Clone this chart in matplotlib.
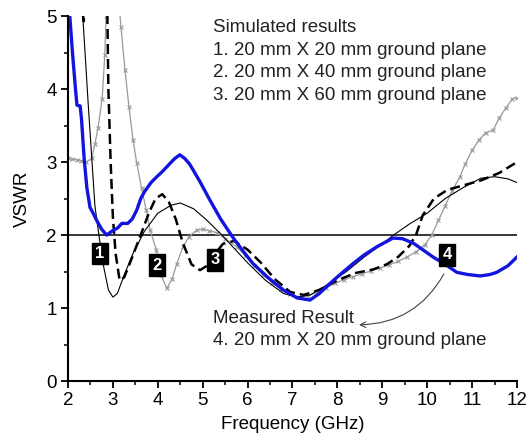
import numpy as np
import matplotlib
matplotlib.use('Agg')
import matplotlib.pyplot as plt
from matplotlib.patches import FancyArrowPatch
from matplotlib.ticker import MultipleLocator

# simulated 1: 20 mm x 20 mm ground plane (thin solid)
sim1_f = [2.30, 2.45, 2.60, 2.70, 2.80, 2.90, 3.00, 3.10, 3.25, 3.45, 3.70, 4.00, 4.30,
          4.50, 4.80, 5.10, 5.43, 5.70, 6.00, 6.40, 6.80, 7.10, 7.40, 7.80, 8.20, 8.60,
          9.00, 9.25, 9.60, 10.00, 10.40, 10.80, 11.20, 11.50, 11.80, 12.00]
sim1_v = [5.30, 3.80, 2.40, 1.95, 1.55, 1.25, 1.15, 1.20, 1.45, 1.75, 2.05, 2.30, 2.41,
          2.44, 2.36, 2.20, 2.00, 1.82, 1.62, 1.38, 1.20, 1.15, 1.18, 1.33, 1.50, 1.70,
          1.88, 2.00, 2.15, 2.30, 2.50, 2.65, 2.78, 2.80, 2.77, 2.72]

# simulated 2: 20 mm x 40 mm ground plane (dashed), nan splits the two pieces
sim2_f = [2.28, 2.35, 2.42, np.nan,
          2.87, 2.90, 2.95, 3.00, 3.06, 3.15, 3.25, 3.40, 3.60, 3.80, 3.95, 4.10, 4.25,
          4.40, 4.56, 4.75, 4.94, 5.10, 5.25, 5.45, 5.70, 6.00, 6.30, 6.60, 6.95, 7.25,
          7.60, 8.00, 8.40, 8.80, 9.10, 9.35, 9.60, 9.75, 9.90, 10.15, 10.45, 10.80,
          11.20, 11.60, 12.00]
sim2_v = [5.30, 4.93, 5.30, np.nan,
          5.30, 4.00, 3.00, 2.25, 1.75, 1.38, 1.42, 1.65, 1.97, 2.30, 2.50, 2.56, 2.45,
          2.22, 1.89, 1.60, 1.52, 1.58, 1.72, 1.88, 1.92, 1.80, 1.62, 1.40, 1.22, 1.18,
          1.25, 1.38, 1.48, 1.53, 1.60, 1.70, 1.85, 2.00, 2.27, 2.50, 2.62, 2.68,
          2.75, 2.85, 3.00]

# simulated 3: 20 mm x 60 mm ground plane (grey with x marks)
sim3_f = [2.00, 2.10, 2.20, 2.30, 2.40, 2.53, 2.60, 2.67, 2.76, 2.82, 2.85, 2.92, 3.05,
          3.18, 3.27, 3.36, 3.45, 3.53, 3.64, 3.74, 3.83, 3.97, 4.07, 4.20, 4.32, 4.42,
          4.56, 4.70, 4.87, 5.00, 5.15, 5.32, 5.50, 5.76, 5.95, 6.15, 6.35, 6.55, 6.75,
          6.95, 7.15, 7.35, 7.55, 7.75, 7.95, 8.15, 8.35, 8.55, 8.75, 8.95, 9.15, 9.35,
          9.55, 9.75, 9.95, 10.10, 10.25, 10.40, 10.55, 10.73, 10.85, 11.00, 11.15,
          11.30, 11.47, 11.60, 11.75, 11.90, 12.00]
sim3_v = [3.05, 3.04, 3.03, 3.02, 3.00, 3.05, 3.25, 3.47, 3.86, 4.47, 5.00, 5.60, 5.80,
          4.85, 4.26, 3.75, 3.30, 2.99, 2.64, 2.35, 2.07, 1.79, 1.45, 1.27, 1.40, 1.60,
          1.84, 1.98, 2.07, 2.08, 2.06, 2.03, 1.95, 1.84, 1.72, 1.58, 1.46, 1.35, 1.26,
          1.19, 1.15, 1.17, 1.22, 1.28, 1.34, 1.39, 1.43, 1.47, 1.51, 1.55, 1.59, 1.64,
          1.70, 1.77, 1.87, 2.00, 2.20, 2.40, 2.60, 2.80, 2.98, 3.16, 3.30,
          3.40, 3.44, 3.60, 3.74, 3.87, 3.88]

# measured 4: 20 mm x 20 mm ground plane (blue)
meas_f = [2.00, 2.04, 2.10, 2.16, 2.20, 2.27, 2.30, 2.36, 2.42, 2.49, 2.56, 2.64, 2.75,
          2.86, 2.97, 3.11, 3.20, 3.33, 3.43, 3.53, 3.62, 3.71, 3.85, 3.98, 4.10, 4.27,
          4.38, 4.49, 4.60, 4.70, 4.78, 4.95, 5.16, 5.40, 5.67, 5.90, 6.12, 6.45, 6.79,
          7.10, 7.39, 7.60, 7.84, 8.10, 8.35, 8.60, 8.88, 9.24, 9.45, 9.69, 9.90, 10.13,
          10.40, 10.66, 10.90, 11.18, 11.40, 11.55, 11.80, 12.00]
meas_v = [5.40, 5.00, 4.50, 4.05, 3.78, 3.77, 3.60, 3.05, 2.65, 2.38, 2.30, 2.20, 2.08,
          2.00, 2.05, 2.10, 2.16, 2.16, 2.22, 2.34, 2.50, 2.60, 2.72, 2.80, 2.87, 2.98,
          3.05, 3.10, 3.05, 2.98, 2.90, 2.72, 2.48, 2.22, 1.97, 1.78, 1.61, 1.42, 1.25,
          1.14, 1.11, 1.20, 1.34, 1.48, 1.61, 1.73, 1.84, 1.96, 1.95, 1.89, 1.80, 1.70,
          1.60, 1.49, 1.46, 1.44, 1.46, 1.49, 1.58, 1.70]

# curve number tags: (label, freq, vswr)
tags = [('1', 2.71, 1.75), ('2', 3.98, 1.59), ('3', 5.27, 1.66), ('4', 10.44, 1.73)]

sim_lines = ['Simulated results',
             '1. 20 mm X 20 mm ground plane',
             '2. 20 mm X 40 mm ground plane',
             '3. 20 mm X 60 mm ground plane']
meas_lines = ['Measured Result', '4. 20 mm X 20 mm ground plane']

plt.rcParams['font.family'] = ['Liberation Sans', 'DejaVu Sans']
plt.rcParams['font.size'] = 13.5

fig = plt.figure(figsize=(5.27, 4.36), dpi=100)
ax = fig.add_axes([0.129, 0.126, 0.852, 0.837])

ax.axhline(2, color='black', lw=1.1)
ax.plot(sim3_f, sim3_v, color='#9a9a9a', lw=0.9, marker='x', ms=3.5, mew=0.8)
ax.plot(sim1_f, sim1_v, color='black', lw=0.8)
ax.plot(sim2_f, sim2_v, color='black', lw=1.8, linestyle=(0, (4, 2)))
ax.plot(meas_f, meas_v, color='#1414e0', lw=2.4)

for lab, f, v in tags:
    ax.text(f, v, lab, color='white', fontsize=12, fontweight='bold', ha='center', va='center',
            bbox=dict(boxstyle='square,pad=0.2', fc='black', ec='black'))

for i, s in enumerate(sim_lines):
    ax.text(5.23, 4.78 - 0.31 * i, s, va='baseline', ha='left', color='#222222')
for i, s in enumerate(meas_lines):
    ax.text(5.23, 0.79 - 0.30 * i, s, va='baseline', ha='left', color='#222222')

arrow = FancyArrowPatch((10.4, 1.5), (8.42, 0.77), connectionstyle='arc3,rad=-0.3',
                        arrowstyle='->', mutation_scale=10, color='#444444', lw=0.8)
ax.add_patch(arrow)

ax.set_xlim(2, 12)
ax.set_ylim(0, 5)
ax.xaxis.set_major_locator(MultipleLocator(1))
ax.xaxis.set_minor_locator(MultipleLocator(0.5))
ax.yaxis.set_major_locator(MultipleLocator(1))
ax.yaxis.set_minor_locator(MultipleLocator(0.5))
ax.tick_params(which='major', direction='out', length=5, width=1.3, pad=3)
ax.tick_params(which='minor', direction='out', length=3, width=1.1)
for side in ['top', 'right']:
    ax.spines[side].set_visible(False)
for side in ['left', 'bottom']:
    ax.spines[side].set_linewidth(1.5)

ax.set_xlabel('Frequency (GHz)', labelpad=5)
ax.set_ylabel('VSWR', labelpad=11)

fig.savefig('out.png', dpi=100)
